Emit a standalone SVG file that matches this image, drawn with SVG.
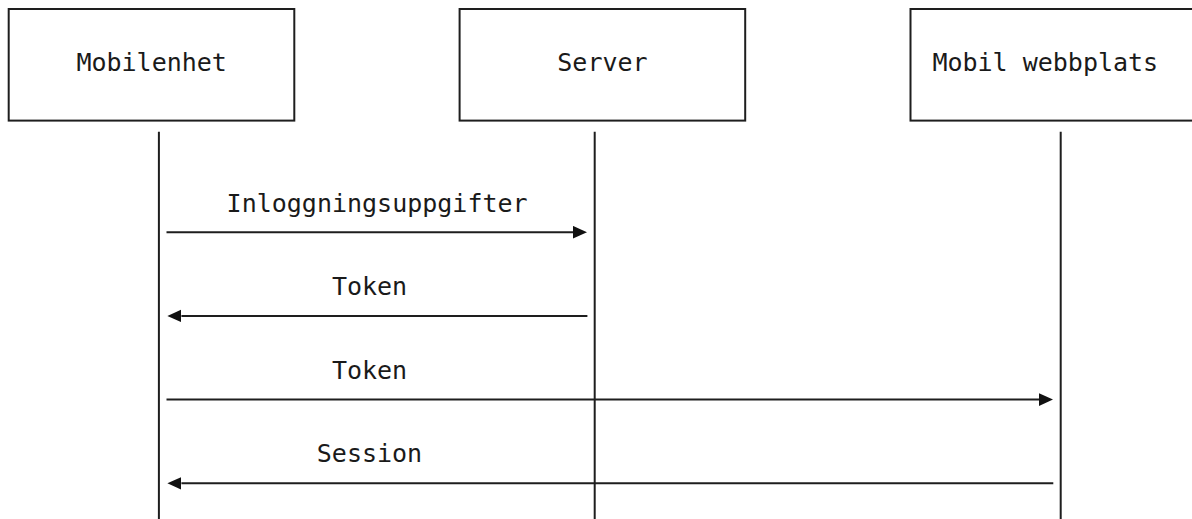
<svg xmlns="http://www.w3.org/2000/svg" width="1192" height="519" viewBox="0 0 1192 519">
  <style>
    .frame { fill: none; stroke: #1e1e1e; stroke-width: 2; }
    .life { stroke: #1e1e1e; stroke-width: 2; }
    .msg { stroke: #1e1e1e; stroke-width: 2; fill: none; }
    .label { font-family: "DejaVu Sans Mono", "Liberation Mono", monospace; font-size: 25px; fill: #1a1a1a; }
  </style>
  <defs>
    <marker id="head" markerUnits="userSpaceOnUse" markerWidth="15" markerHeight="14" refX="0" refY="6.3" orient="auto">
      <path d="M0,0 L14,6.3 L0,12.6 Z" fill="#111"/>
    </marker>
  </defs>
  <rect width="1192" height="519" fill="#fff"/>

  <!-- participants -->
  <g id="mobilenhet">
    <rect class="frame" x="8.7" y="9" width="285.6" height="111.6"/>
    <text class="label" x="76.4" y="71.4">Mobilenhet</text>
  </g>
  <g id="server">
    <rect class="frame" x="459.6" y="9" width="285.6" height="111.6"/>
    <text class="label" x="557.3" y="71.4">Server</text>
  </g>
  <g id="mobil-webbplats">
    <rect class="frame" x="910.5" y="9" width="286" height="111.6"/>
    <text class="label" x="932.4" y="71.4">Mobil webbplats</text>
  </g>

  <!-- lifelines and messages -->
  <g id="connectors">
    <line class="life" x1="158.9" y1="131.7" x2="158.9" y2="519"/>
    <line class="life" x1="594.7" y1="131.7" x2="594.7" y2="519"/>
    <line class="life" x1="1060.7" y1="131.7" x2="1060.7" y2="519"/>

    <line class="msg" x1="166.5" y1="232.2" x2="573" y2="232.2" marker-end="url(#head)"/>
    <text class="label" x="226.6" y="211.5">Inloggningsuppgifter</text>

    <line class="msg" x1="587.4" y1="315.9" x2="181.4" y2="315.9" marker-end="url(#head)"/>
    <text class="label" x="331.9" y="295.0">Token</text>

    <line class="msg" x1="166.5" y1="399.6" x2="1039" y2="399.6" marker-end="url(#head)"/>
    <text class="label" x="331.9" y="378.7">Token</text>

    <line class="msg" x1="1053.3" y1="483.3" x2="181.4" y2="483.3" marker-end="url(#head)"/>
    <text class="label" x="316.8" y="462.4">Session</text>
  </g>
</svg>
